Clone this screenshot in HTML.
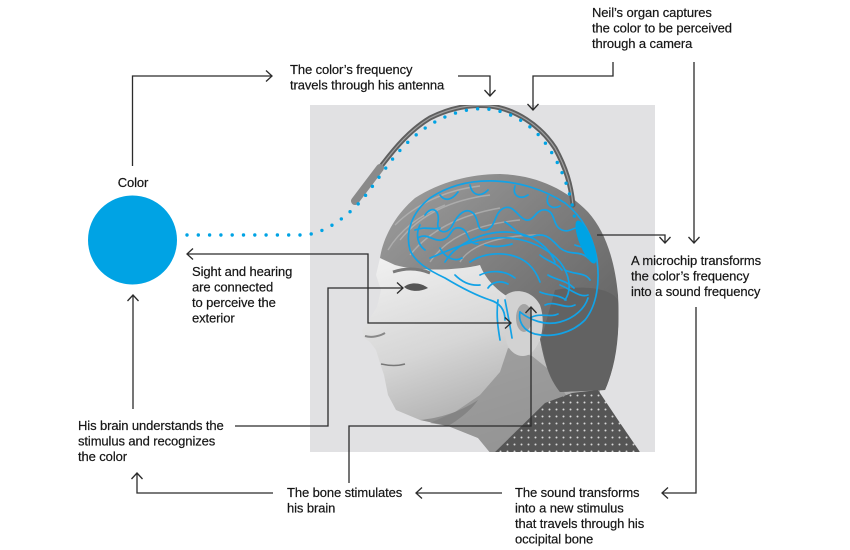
<!DOCTYPE html>
<html><head><meta charset="utf-8"><style>
html,body{margin:0;padding:0;background:#fff;width:850px;height:550px;overflow:hidden}
svg{display:block}
.t{font-family:"Liberation Sans",Arial,sans-serif;font-size:13px;fill:#161616;stroke:#161616;stroke-width:0.2;letter-spacing:-0.1px}
.c{fill:none;stroke:#2b2b2b;stroke-width:1.3}
.b{fill:none;stroke:#12a2e6;stroke-width:1.7;stroke-linecap:round;stroke-linejoin:round}
</style></head><body>
<svg width="850" height="550" viewBox="0 0 850 550" xmlns="http://www.w3.org/2000/svg">
<defs>
<clipPath id="ph"><rect x="310" y="105" width="345" height="347"/></clipPath>
<linearGradient id="hairG" x1="0" y1="0" x2="1" y2="1">
<stop offset="0" stop-color="#a0a0a0"/><stop offset="0.45" stop-color="#7e7e7e"/><stop offset="1" stop-color="#5a5a5a"/>
</linearGradient>
<linearGradient id="faceG" x1="0" y1="0" x2="0.4" y2="1">
<stop offset="0" stop-color="#f2f2f2"/><stop offset="0.5" stop-color="#d6d6d6"/><stop offset="1" stop-color="#a2a2a2"/>
</linearGradient>
<pattern id="dots" width="7" height="7" patternUnits="userSpaceOnUse">
<rect width="7" height="7" fill="#555"/><circle cx="3.5" cy="3.5" r="1" fill="#d8d8d8"/>
</pattern>
</defs>

<!-- photo -->
<g clip-path="url(#ph)">
<rect x="310" y="105" width="345" height="347" fill="#e1e1e3"/>
<!-- face -->
<path d="M380,258 L376,275 L381,290 L377,307 L370,318 L362,330 L364,338 L370,342 L376,350 L380,363 L384,375 L388,395 L396,410 L420,420 L448,426 L478,438 L492,455 L600,455 L600,390 L545,360 L538,335 L505,300 L480,265 Z" fill="url(#faceG)"/>
<path d="M430,423 L448,426 L478,438 L492,455 L560,455 L572,405 L552,372 L532,356 L508,348 L500,372 L480,395 L455,412 Z" fill="#929292" opacity="0.8"/>
<path d="M420,420 C440,418 460,412 478,400 C470,412 455,422 448,426 Z" fill="#777" opacity="0.6"/>
<!-- hair -->
<path d="M380,258 C383,238 395,215 415,198 C440,182 470,174 500,174 C535,175 565,188 588,212 C606,232 615,262 618,295 C620,330 616,365 605,390 L560,392 C550,380 545,365 540,340 C535,320 520,300 505,295 C495,288 485,278 480,265 C460,270 420,272 395,265 Z" fill="url(#hairG)"/>
<path d="M555,290 C585,285 610,288 618,300 C620,335 616,365 605,390 L560,392 C550,378 545,362 541,340 Z" fill="#626262"/>
<g stroke="#c4c4c4" stroke-width="1.4" fill="none" opacity="0.55">
<path d="M400,240 C420,215 450,200 490,195"/><path d="M410,255 C430,230 460,215 500,208"/>
<path d="M430,262 C445,240 470,225 520,220"/><path d="M460,262 C470,245 500,235 540,235"/>
<path d="M395,225 C415,205 445,190 480,186"/><path d="M388,250 C400,230 420,215 445,205"/>
</g>
<!-- ear -->
<path d="M506,295 C515,288 532,290 540,305 C546,322 542,345 530,354 C520,360 508,352 506,340 C503,325 503,308 506,295 Z" fill="#d2d2d2"/>
<ellipse cx="524" cy="318" rx="8" ry="14" fill="#a4a4a4"/>
<!-- features -->
<path d="M393,272 C405,268 418,268 430,273" stroke="#7a7a7a" stroke-width="3" fill="none"/>
<path d="M404,287 C410,282 420,282 428,288 C420,292 410,292 404,287 Z" fill="#555"/>
<path d="M365,336 C372,338 380,336 385,333" stroke="#888" stroke-width="2" fill="none"/>
<path d="M381,364 C390,366 398,366 405,364" stroke="#777" stroke-width="1.5" fill="none"/>
<!-- collar -->
<path d="M492,455 L545,403 L572,393 L598,390 L618,420 L642,455 Z" fill="url(#dots)"/>
<!-- antenna -->
<path d="M355,201 L382,165 C395,148 410,130 430,118 C450,108 470,104 490,106 C515,109 540,125 555,148 C566,168 571,185 573,205" fill="none" stroke="#5f5f5f" stroke-width="5" stroke-linecap="round"/>
<path d="M355,201 L382,165 C395,148 410,130 430,118 C450,108 470,104 490,106 C515,109 540,125 555,148 C566,168 571,185 573,205" fill="none" stroke="#a0a0a0" stroke-width="1.2"/>
<path d="M355,201 L380,168" stroke="#8a8a8a" stroke-width="8" stroke-linecap="round"/>
<!-- brain -->
<path class="b" d="M410,250 C405,232 412,212 430,198 C448,186 470,180 495,181 C520,182 545,190 565,203 C582,216 593,236 597,260 C600,282 597,305 585,320 C572,333 552,338 535,334 C524,331 518,322 520,312"/>
<path class="b" d="M410,250 C415,262 428,270 445,278 C460,287 478,296 490,300 C500,303 505,310 505,320"/>
<path class="b" d="M520,312 C530,320 545,326 560,322 C575,318 585,308 588,298"/>
<path class="b" d="M430,258 C450,250 470,240 495,238 C520,236 545,245 560,262 C570,275 572,290 565,300"/>
<path class="b" d="M425,215 C432,205 440,210 438,222 C436,232 446,236 452,226 C458,214 466,206 474,214 C480,222 476,232 486,230 C496,228 494,212 504,208 C514,204 518,218 526,220 C534,222 536,208 546,210 C556,212 552,226 562,230 C572,234 576,222 582,232"/>
<path class="b" d="M418,238 C426,232 434,242 442,240 C452,238 450,226 460,228 C470,230 466,244 478,244 M505,222 C515,228 522,240 534,236 C546,232 552,240 560,248 C570,256 580,250 588,258"/>
<path class="b" d="M445,262 C455,245 480,232 505,232 C530,232 548,245 555,262"/>
<path class="b" d="M505,300 C508,315 510,325 512,338 M498,300 C496,315 498,328 500,340"/>
<path class="b" d="M565,270 C575,275 585,272 590,280 M560,285 C572,290 580,298 588,295 M545,305 C555,300 565,310 575,305 M530,318 C540,312 550,318 558,314"/>
<path class="b" d="M470,262 C480,255 495,252 510,255 C525,258 535,268 540,282 M480,275 C490,270 505,270 515,278"/>
<path class="b" d="M420,225 C415,235 418,245 425,250 M440,248 C445,258 455,262 462,258"/>
<path class="b" d="M440,195 C445,202 452,200 458,192 M470,185 C472,195 480,198 488,190 M515,186 C512,196 520,200 528,195 M548,196 C545,205 552,210 560,206"/>
<path class="b" d="M415,230 C425,226 432,230 440,228 M485,245 C495,248 505,246 512,244 M540,255 C548,262 556,262 562,270"/>
<path class="b" d="M548,275 C556,280 566,280 574,288 M540,292 C548,296 558,294 566,300 M575,245 C582,248 588,246 594,252"/>
<path class="b" d="M455,275 C462,282 470,286 480,285 M488,288 C492,282 500,280 508,284"/>
<!-- microchip -->
<ellipse cx="586" cy="242" rx="6.5" ry="23" transform="rotate(-22 586 242)" fill="#00a3e4"/>
</g>

<!-- dotted signal -->
<path d="M187,235 L305,235 C325,233 345,218 360,202 C375,185 388,162 405,145 C425,125 448,112 475,109 C500,107 525,118 543,140 C560,162 570,188 575,220" fill="none" stroke="#00a3e4" stroke-width="3.4" stroke-linecap="round" stroke-dasharray="0 11.3"/>

<!-- color circle -->
<circle cx="132.5" cy="240" r="44.5" fill="#00a3e4"/>

<!-- connectors -->
<path class="c" d="M132.5,166 V76 H272"/><path class="c" d="M266,70.5 L272,76 L266,81.5"/>
<path class="c" d="M458,76 H490 V96"/><path class="c" d="M484.5,90 L490,96 L495.5,90"/>
<path class="c" d="M613,62 V76 H533 V110"/><path class="c" d="M527.5,104 L533,110 L538.5,104"/>
<path class="c" d="M694,62 V243"/><path class="c" d="M688.5,237 L694,243 L699.5,237"/>
<path class="c" d="M597,235 H665 V243"/><path class="c" d="M659.5,237 L665,243 L670.5,237"/>
<path class="c" d="M696,307 V493 H662"/><path class="c" d="M668,487.5 L662,493 L668,498.5"/>
<path class="c" d="M502,493 H416"/><path class="c" d="M422,487.5 L416,493 L422,498.5"/>
<path class="c" d="M273,493 H137 V473"/><path class="c" d="M131.5,479 L137,473 L142.5,479"/>
<path class="c" d="M133,409 V295"/><path class="c" d="M127.5,301 L133,295 L138.5,301"/>
<path class="c" d="M235,426 H328 V288 H403"/><path class="c" d="M397,282.5 L403,288 L397,293.5"/>
<path class="c" d="M187,254 H368 V323 H511"/><path class="c" d="M193,248.5 L187,254 L193,259.5"/><path class="c" d="M505,317.5 L511,323 L505,328.5"/>
<path class="c" d="M349,483 V426 H531 V307"/><path class="c" d="M525.5,313 L531,307 L536.5,313"/>

<!-- labels -->
<text class="t" x="133" y="187" text-anchor="middle">Color</text>
<text class="t" x="290" y="74">The color’s frequency</text>
<text class="t" x="290" y="89.5">travels through his antenna</text>
<text class="t" x="592" y="17">Neil’s organ captures</text>
<text class="t" x="592" y="32.5">the color to be perceived</text>
<text class="t" x="592" y="48">through a camera</text>
<text class="t" x="192" y="276">Sight and hearing</text>
<text class="t" x="192" y="291.5">are connected</text>
<text class="t" x="192" y="307">to perceive the</text>
<text class="t" x="192" y="322.5">exterior</text>
<text class="t" x="631" y="265">A microchip transforms</text>
<text class="t" x="631" y="280.5">the color’s frequency</text>
<text class="t" x="631" y="296">into a sound frequency</text>
<text class="t" x="78" y="430">His brain understands the</text>
<text class="t" x="78" y="445.5">stimulus and recognizes</text>
<text class="t" x="78" y="461">the color</text>
<text class="t" x="287" y="497">The bone stimulates</text>
<text class="t" x="287" y="512.5">his brain</text>
<text class="t" x="515" y="497">The sound transforms</text>
<text class="t" x="515" y="512.5">into a new stimulus</text>
<text class="t" x="515" y="528">that travels through his</text>
<text class="t" x="515" y="543.5">occipital bone</text>
</svg>
</body></html>
